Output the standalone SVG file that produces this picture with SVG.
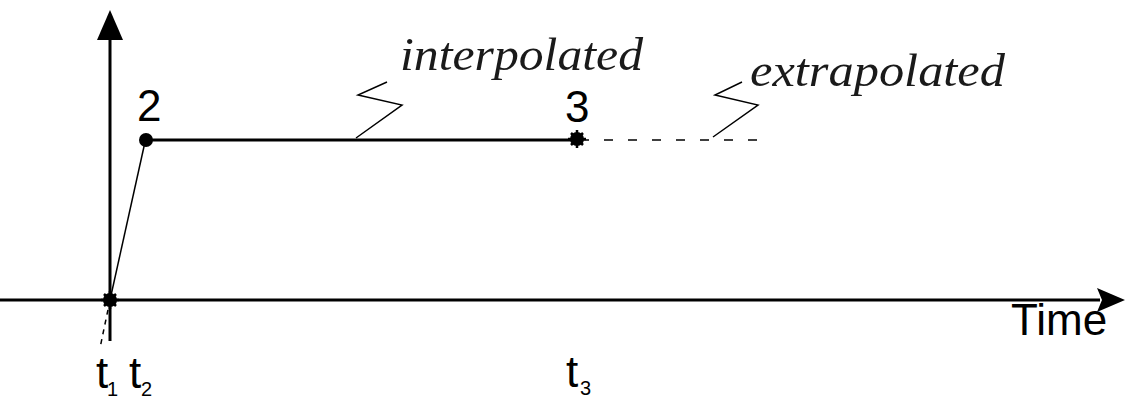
<svg xmlns="http://www.w3.org/2000/svg" width="1127" height="401" viewBox="0 0 1127 401">
<style>
.ax{stroke:#000;stroke-width:3;fill:none}
.thin{stroke:#000;stroke-width:1.5;fill:none}
.lbl{font-family:"Liberation Sans",Arial,sans-serif;font-size:44px;fill:#000}
.sub{font-family:"Liberation Sans",Arial,sans-serif;font-size:20px;fill:#000}
.it{font-family:"Liberation Serif","Times New Roman",serif;font-style:italic;font-size:47px;fill:#1a1a1a}
</style>
<defs>
<g id="star">
<circle r="7" fill="#000"/>
<path d="M-9,0H9M0,-9V9M-6,-6L6,6M-6,6L6,-6" stroke="#000" stroke-width="2.5"/>
</g>
</defs>
<rect width="1127" height="401" fill="#fff"/>
<g id="axes">
<line class="ax" x1="110" y1="38" x2="110" y2="341"/>
<polygon points="110,10 97,40 123,40" fill="#000"/>
<line class="ax" x1="0" y1="300" x2="1100" y2="300"/>
<polygon points="1125,300 1097,288 1102,300 1097,312" fill="#000"/>
<text class="lbl" x="1011" y="335">Time</text>
</g>
<g id="connectors">
<line class="thin" x1="110" y1="300" x2="145" y2="142"/>
<line class="thin" x1="110" y1="300" x2="100" y2="348" stroke-dasharray="5 5"/>
<line class="ax" x1="145" y1="140" x2="576" y2="140"/>
<line class="thin" x1="580" y1="140" x2="765" y2="140" stroke-dasharray="9 15"/>
<path class="thin" d="M387,82 L358,95 L402,105 L356,138"/>
<path class="thin" d="M742,82 L715,95 L758,105 L713,137"/>
</g>
<g id="node1">
<use href="#star" x="110" y="300"/>
<text class="lbl" x="96" y="388">t</text>
<text class="sub" x="107" y="396">1</text>
</g>
<g id="node2">
<circle cx="146" cy="140" r="7" fill="#000"/>
<text class="lbl" x="137" y="121">2</text>
<text class="lbl" x="129" y="388">t</text>
<text class="sub" x="141" y="396">2</text>
</g>
<g id="node3">
<use href="#star" x="577" y="139"/>
<text class="lbl" x="565" y="122">3</text>
<text class="lbl" x="566" y="387">t</text>
<text class="sub" x="580" y="395">3</text>
</g>
<g id="labels">
<text class="it" x="400" y="70" textLength="243" lengthAdjust="spacingAndGlyphs">interpolated</text>
<text class="it" x="750" y="86" textLength="255" lengthAdjust="spacingAndGlyphs">extrapolated</text>
</g>
</svg>
